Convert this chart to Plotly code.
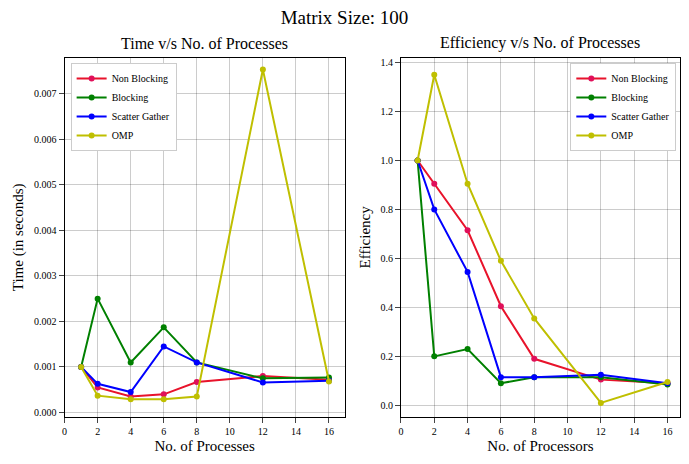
import plotly.graph_objects as go
from plotly.subplots import make_subplots

procs = [1, 2, 4, 6, 8, 12, 16]

time_nb = [0.00100, 0.00055, 0.00035, 0.00040, 0.00067, 0.00080, 0.00072]
time_bl = [0.00100, 0.00250, 0.00110, 0.00187, 0.00110, 0.00075, 0.00077]
time_sg = [0.00100, 0.00063, 0.00045, 0.00145, 0.00110, 0.00066, 0.00070]
time_omp = [0.00100, 0.00037, 0.00029, 0.00029, 0.00035, 0.00753, 0.00068]

eff_nb = [1.0, 0.905, 0.715, 0.405, 0.19, 0.105, 0.09]
eff_bl = [1.0, 0.20, 0.23, 0.09, 0.115, 0.115, 0.085]
eff_sg = [1.0, 0.80, 0.545, 0.115, 0.115, 0.125, 0.09]
eff_omp = [1.0, 1.35, 0.905, 0.59, 0.355, 0.01, 0.095]

names = ["Non Blocking", "Blocking", "Scatter Gather", "OMP"]
colors = ["#e8132b", "#008000", "#0000ff", "#bfbf00"]
markers = ["#e0105a", "#008000", "#0000ff", "#bfbf00"]

fig = make_subplots(rows=1, cols=2)
for i, (t, e) in enumerate(zip([time_nb, time_bl, time_sg, time_omp],
                               [eff_nb, eff_bl, eff_sg, eff_omp])):
    for col, vals, leg in ((1, t, "legend"), (2, e, "legend2")):
        fig.add_trace(go.Scatter(
            x=procs, y=vals, mode="lines+markers", name=names[i],
            line=dict(color=colors[i], width=2),
            marker=dict(color=markers[i], size=6),
            legend=leg,
        ), row=1, col=col)

axis = dict(showline=True, mirror=True, linecolor="black", ticks="outside",
            gridcolor="rgba(0,0,0,0.2)", zeroline=False, tickfont=dict(size=10))
leg_style = dict(bordercolor="#cccccc", borderwidth=1, font=dict(size=10),
                 bgcolor="white", tracegroupgap=0)
fig.update_layout(
    width=673, height=448, margin=dict(l=0, r=0, t=0, b=0),
    plot_bgcolor="white", paper_bgcolor="white",
    font=dict(family="Liberation Serif", color="black"),
    title=dict(text="Matrix Size: 100", x=0.5, y=0.98, yanchor="middle",
               font=dict(size=19)),
    xaxis=dict(axis, domain=[0.080, 0.498], range=[0, 16.95], dtick=2,
               title=dict(text="No. of Processes", font=dict(size=15), standoff=4)),
    yaxis=dict(axis, domain=[0.085, 0.891], range=[-0.0001, 0.00779], dtick=0.001,
               tickformat=".3f",
               title=dict(text="Time (in seconds)", font=dict(size=15), standoff=6)),
    xaxis2=dict(axis, domain=[0.582, 0.9985], range=[0, 16.75], dtick=2,
                title=dict(text="No. of Processors", font=dict(size=15), standoff=4)),
    yaxis2=dict(axis, domain=[0.085, 0.891], range=[-0.048, 1.42], dtick=0.2,
                tickformat=".1f",
                title=dict(text="Efficiency", font=dict(size=15), standoff=6)),
    legend=dict(leg_style, x=0.089, y=0.879, xanchor="left", yanchor="top"),
    legend2=dict(leg_style, x=0.993, y=0.879, xanchor="right", yanchor="top"),
    annotations=[
        dict(text="Time v/s No. of Processes", x=0.289, y=0.898, xref="paper", yref="paper",
             xanchor="center", yanchor="bottom", showarrow=False, font=dict(size=16)),
        dict(text="Efficiency v/s No. of Processes", x=0.79, y=0.898, xref="paper", yref="paper",
             xanchor="center", yanchor="bottom", showarrow=False, font=dict(size=16)),
    ],
)
fig.write_html("out.html")
